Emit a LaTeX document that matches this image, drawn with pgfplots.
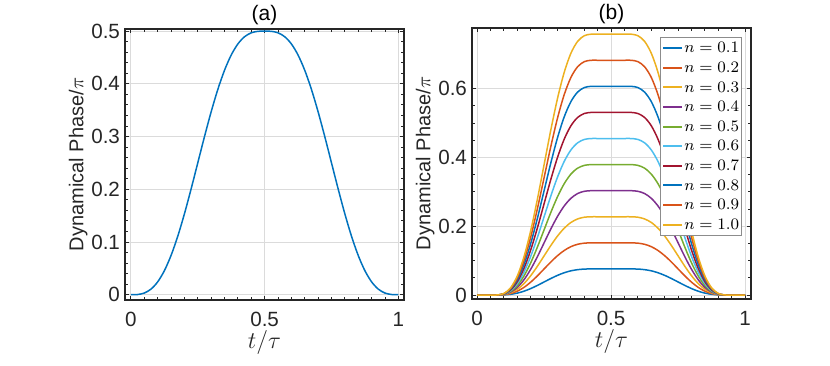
\documentclass[border=0pt]{standalone}
\usepackage{fontspec}
\setmainfont{Liberation Sans}
\usepackage{pgfplots}
\usepackage{pgfplotstable}
\pgfplotsset{compat=1.18}

\definecolor{c1}{rgb}{0,0.447,0.741}
\definecolor{c2}{rgb}{0.850,0.325,0.098}
\definecolor{c3}{rgb}{0.929,0.694,0.125}
\definecolor{c4}{rgb}{0.494,0.184,0.556}
\definecolor{c5}{rgb}{0.466,0.674,0.188}
\definecolor{c6}{rgb}{0.301,0.745,0.933}
\definecolor{c7}{rgb}{0.635,0.078,0.184}
\definecolor{axgray}{rgb}{0.15,0.15,0.15}

\pgfplotstableread{
t y
0.000 0.0000
0.025 0.0004
0.050 0.0032
0.075 0.0106
0.100 0.0243
0.125 0.0454
0.150 0.0743
0.175 0.1106
0.200 0.1532
0.225 0.2004
0.250 0.2500
0.275 0.2996
0.300 0.3468
0.325 0.3894
0.350 0.4257
0.375 0.4546
0.400 0.4757
0.425 0.4894
0.450 0.4968
0.475 0.4996
0.500 0.5000
0.525 0.4996
0.550 0.4968
0.575 0.4894
0.600 0.4757
0.625 0.4546
0.650 0.4257
0.675 0.3894
0.700 0.3468
0.725 0.2996
0.750 0.2500
0.775 0.2004
0.800 0.1532
0.825 0.1106
0.850 0.0743
0.875 0.0454
0.900 0.0243
0.925 0.0106
0.950 0.0032
0.975 0.0004
1.000 0.0000
}\dataA

\pgfplotstableread{
t n1 n2 n3 n4 n5 n6 n7 n8 n9 n10
0.000 0 0 0 0 0 0 0 0 0 0
0.025 0 0 0 0 0 0 0 0 0 0
0.050 0 0 0 0 0 0 0 0 0 0
0.075 0 0 0 0 0.0001 0.0001 0.0001 0.0001 0.0001 0.0001
0.100 0.0004 0.0009 0.0013 0.0018 0.0022 0.0027 0.0031 0.0035 0.0040 0.0044
0.125 0.0021 0.0042 0.0063 0.0083 0.0104 0.0125 0.0146 0.0167 0.0188 0.0209
0.150 0.0055 0.0111 0.0166 0.0222 0.0277 0.0333 0.0388 0.0444 0.0499 0.0554
0.175 0.0111 0.0222 0.0333 0.0444 0.0555 0.0666 0.0777 0.0888 0.1000 0.1111
0.200 0.0187 0.0374 0.0561 0.0748 0.0935 0.1122 0.1308 0.1495 0.1682 0.1869
0.225 0.0279 0.0557 0.0836 0.1114 0.1393 0.1672 0.1950 0.2229 0.2508 0.2786
0.250 0.0379 0.0758 0.1137 0.1516 0.1895 0.2274 0.2653 0.3032 0.3411 0.3790
0.275 0.0479 0.0959 0.1438 0.1918 0.2397 0.2876 0.3356 0.3835 0.4314 0.4794
0.300 0.0571 0.1142 0.1713 0.2284 0.2855 0.3426 0.3998 0.4569 0.5140 0.5711
0.325 0.0647 0.1294 0.1941 0.2588 0.3235 0.3882 0.4529 0.5176 0.5822 0.6469
0.350 0.0703 0.1405 0.2108 0.2810 0.3513 0.4215 0.4918 0.5620 0.6323 0.7026
0.375 0.0737 0.1474 0.2211 0.2949 0.3686 0.4423 0.5160 0.5897 0.6634 0.7371
0.400 0.0754 0.1507 0.2261 0.3014 0.3768 0.4521 0.5275 0.6029 0.6782 0.7536
0.425 0.0758 0.1516 0.2274 0.3032 0.3790 0.4548 0.5306 0.6064 0.6822 0.7580
0.450 0.0758 0.1516 0.2274 0.3032 0.3790 0.4548 0.5306 0.6064 0.6822 0.7580
0.475 0.0758 0.1516 0.2274 0.3032 0.3790 0.4548 0.5306 0.6064 0.6822 0.7580
0.500 0.0758 0.1516 0.2274 0.3032 0.3790 0.4548 0.5306 0.6064 0.6822 0.7580
0.525 0.0758 0.1516 0.2274 0.3032 0.3790 0.4548 0.5306 0.6064 0.6822 0.7580
0.550 0.0758 0.1516 0.2274 0.3032 0.3790 0.4548 0.5306 0.6064 0.6822 0.7580
0.575 0.0758 0.1516 0.2274 0.3032 0.3790 0.4548 0.5306 0.6064 0.6822 0.7580
0.600 0.0754 0.1507 0.2261 0.3014 0.3768 0.4521 0.5275 0.6029 0.6782 0.7536
0.625 0.0737 0.1474 0.2211 0.2949 0.3686 0.4423 0.5160 0.5897 0.6634 0.7371
0.650 0.0703 0.1405 0.2108 0.2810 0.3513 0.4215 0.4918 0.5620 0.6323 0.7026
0.675 0.0647 0.1294 0.1941 0.2588 0.3235 0.3882 0.4529 0.5176 0.5822 0.6469
0.700 0.0571 0.1142 0.1713 0.2284 0.2855 0.3426 0.3998 0.4569 0.5140 0.5711
0.725 0.0479 0.0959 0.1438 0.1918 0.2397 0.2876 0.3356 0.3835 0.4314 0.4794
0.750 0.0379 0.0758 0.1137 0.1516 0.1895 0.2274 0.2653 0.3032 0.3411 0.3790
0.775 0.0279 0.0557 0.0836 0.1114 0.1393 0.1672 0.1950 0.2229 0.2508 0.2786
0.800 0.0187 0.0374 0.0561 0.0748 0.0935 0.1122 0.1308 0.1495 0.1682 0.1869
0.825 0.0111 0.0222 0.0333 0.0444 0.0555 0.0666 0.0777 0.0888 0.1000 0.1111
0.850 0.0055 0.0111 0.0166 0.0222 0.0277 0.0333 0.0388 0.0444 0.0499 0.0554
0.875 0.0021 0.0042 0.0063 0.0083 0.0104 0.0125 0.0146 0.0167 0.0188 0.0209
0.900 0.0004 0.0009 0.0013 0.0018 0.0022 0.0027 0.0031 0.0035 0.0040 0.0044
0.925 0 0 0 0 0.0001 0.0001 0.0001 0.0001 0.0001 0.0001
0.950 0 0 0 0 0 0 0 0 0 0
0.975 0 0 0 0 0 0 0 0 0 0
1.000 0 0 0 0 0 0 0 0 0 0
}\dataB

\pgfplotsset{
  panel/.style={
    scale only axis, width=139.5pt, height=135.5pt,
    axis line style={draw=axgray, line width=0.75pt},
    every tick/.style={draw=axgray, line width=0.45pt},
    major tick length=2.2pt, minor tick length=1.4pt,
    tick align=inside,
    grid=major,
    major grid style={draw=black!14, line width=0.5pt},
    xtick={0,0.5,1},
    minor x tick num=9,
    /pgf/number format/assume math mode=true,
    ticklabel style={font=\fontsize{10.3}{12}\selectfont, text=axgray},
    xticklabel style={yshift=-2.4pt},
    yticklabel style={xshift=1pt},
    xlabel={$t/\tau$},
    ylabel={Dynamical Phase/$\pi$},
    xlabel style={font=\fontsize{12.5}{14}\selectfont, text=axgray, at={(axis description cs:0.5,-0.155)}, anchor=center},
    ylabel style={font=\fontsize{10}{12}\selectfont, text=axgray, at={(axis description cs:-0.168,0.5)}, anchor=center},
    every axis title shift=0pt,
    title style={font=\fontsize{10.5}{12}\selectfont, text=black, at={(axis description cs:0.5,1)}, anchor=center, yshift=7pt},
    every axis plot/.append style={line width=0.75pt, smooth, tension=0.5},
  }
}

\begin{document}
\begin{tikzpicture}
\useasboundingbox (0,0) rectangle (415pt,182.5pt);

\begin{axis}[panel, at={(62.5pt,32.5pt)}, anchor=south west,
  title={(a)},
  xmin=-0.022, xmax=1.021, ymin=-0.01, ymax=0.504,
  ytick={0,0.1,0.2,0.3,0.4,0.5},
  yticklabels={0,0.1,0.2,0.3,0.4,0.5},
  xticklabels={0,0.5,1},
  minor y tick num=4]
\addplot[c1] table[x=t,y=y] {\dataA};
\end{axis}

\begin{axis}[panel, at={(236pt,33pt)}, anchor=south west,
  title={(b)},
  xmin=-0.019, xmax=1.022, ymin=-0.0116, ymax=0.776,
  ytick={0,0.2,0.4,0.6},
  yticklabels={0,0.2,0.4,0.6},
  xticklabels={0,0.5,1},
  minor y tick num=3,
  legend style={at={(axis description cs:1,1)}, anchor=north east,
    xshift=-4.5pt, yshift=-4.5pt, draw=black!45, line width=0.4pt, fill=white,
    font=\fontsize{8.2}{9}\selectfont, inner xsep=0.8pt, inner ysep=0.5pt,
    row sep=0pt, cells={anchor=west},
    nodes={inner xsep=0.5pt, inner ysep=1pt, text height=6.3pt, text depth=1.5pt}},
  legend image code/.code={\draw[#1, sharp plot, line width=1pt] (0pt,0pt) -- (9.5pt,0pt);}]
\addplot[c1] table[x=t,y=n1] {\dataB};
\addlegendentry{$n=0.1$}
\addplot[c2] table[x=t,y=n2] {\dataB};
\addlegendentry{$n=0.2$}
\addplot[c3] table[x=t,y=n3] {\dataB};
\addlegendentry{$n=0.3$}
\addplot[c4] table[x=t,y=n4] {\dataB};
\addlegendentry{$n=0.4$}
\addplot[c5] table[x=t,y=n5] {\dataB};
\addlegendentry{$n=0.5$}
\addplot[c6] table[x=t,y=n6] {\dataB};
\addlegendentry{$n=0.6$}
\addplot[c7] table[x=t,y=n7] {\dataB};
\addlegendentry{$n=0.7$}
\addplot[c1] table[x=t,y=n8] {\dataB};
\addlegendentry{$n=0.8$}
\addplot[c2] table[x=t,y=n9] {\dataB};
\addlegendentry{$n=0.9$}
\addplot[c3] table[x=t,y=n10] {\dataB};
\addlegendentry{$n=1.0$}
\end{axis}
\end{tikzpicture}
\end{document}
